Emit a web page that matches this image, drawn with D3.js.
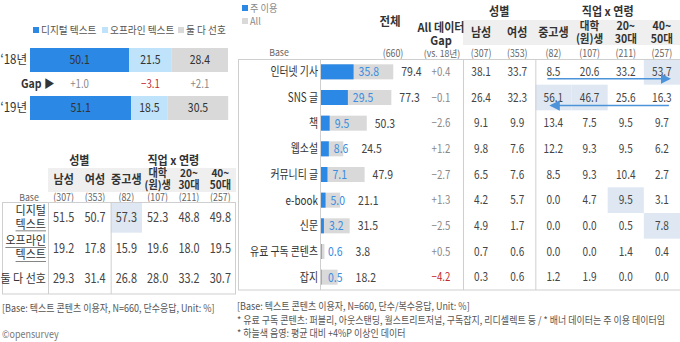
<!DOCTYPE html>
<html><head><meta charset="utf-8">
<script src="https://cdn.jsdelivr.net/npm/d3@7"></script>
<style>
html,body{margin:0;padding:0;background:#fff;}
svg text{font-family:"Noto Sans CJK KR","Noto Sans",sans-serif;}
</style></head>
<body><svg id="c" width="680" height="342"></svg>
<script>
// ---------- DATA ----------
const years = ["‘18년", "‘19년"];
const prefCategories = ["디지털 텍스트", "오프라인 텍스트", "둘 다 선호"];
const pref18 = [50.1, 21.5, 28.4];
const pref19 = [51.1, 18.5, 30.5];
const prefGap = [1.0, -3.1, 2.1];

const groupCols = [["남성"], ["여성"], ["중고생"], ["대학", "(원)생"], ["20~", "30대"], ["40~", "50대"]];
const groupBases = [307, 353, 82, 107, 211, 257];
const leftRowLabels = [["디지털", "텍스트"], ["오프라인", "텍스트"], ["둘 다 선호"]];
const leftDigital = [51.5, 50.7, 57.3, 52.3, 48.8, 49.8];
const leftOffline = [19.2, 17.8, 15.9, 19.6, 18.0, 19.5];
const leftBoth = [29.3, 31.4, 26.8, 28.0, 33.2, 30.7];

const contentCats = ["인터넷 기사", "SNS 글", "책", "웹소설", "커뮤니티 글", "e-book", "신문", "유료 구독 콘텐츠", "잡지"];
const mainUse = [35.8, 29.5, 9.5, 8.6, 7.1, 5.0, 3.2, 0.6, 0.5];
const allUse = [79.4, 77.3, 50.3, 24.5, 47.9, 21.1, 31.5, 3.8, 18.2];
const gapVs18 = [0.4, -0.1, -2.6, 1.2, -2.7, 1.3, -2.5, 0.5, -4.2];
const segInternet = [38.1, 33.7, 8.5, 20.6, 33.2, 53.7];
const segSNS = [26.4, 32.3, 56.1, 46.7, 25.6, 16.3];
const segBook = [9.1, 9.9, 13.4, 7.5, 9.5, 9.7];
const segWebNovel = [9.8, 7.6, 12.2, 9.3, 9.5, 6.2];
const segCommunity = [6.5, 7.6, 8.5, 9.3, 10.4, 2.7];
const segEbook = [4.2, 5.7, 0.0, 4.7, 9.5, 3.1];
const segNewspaper = [4.9, 1.7, 0.0, 0.0, 0.5, 7.8];
const segPaid = [0.7, 0.6, 0.0, 0.0, 1.4, 0.4];
const segMagazine = [0.3, 0.6, 1.2, 1.9, 0.0, 0.0];
const totalBase = 660;
const footLeft = "[Base: 텍스트 콘텐츠 이용자, N=660, 단수응답, Unit: %]";
const footRight = ["[Base: 텍스트 콘텐츠 이용자, N=660, 단수/복수응답, Unit: %]",
  "* 유료 구독 콘텐츠: 퍼블리, 아웃스탠딩, 월스트리트저널, 구독잡지, 리디셀렉트 등 / * 배너 데이터는 주 이용 데이터임",
  "* 하늘색 음영: 평균 대비 +4%P 이상인 데이터"];

// ---------- STYLE ----------
const SXK = 0.92, SXN = 0.84;
const C = {blue: "#2b88e4", light: "#bfe3fa", gray: "#d9d9d9", text: "#444", sub: "#888",
  blueText: "#3a8de0", red: "#c3282d", hl: "#dfe8f2", head: "#efefef", line: "#cfcfcf", arrow: "#4d93da"};

const svg = d3.select("#c");
function T(x, y, s, o = {}) {
  const sx = o.sx || SXK;
  const t = svg.append("text")
    .attr("transform", `translate(${x},${y}) scale(${sx},1)`)
    .attr("text-anchor", o.anchor || "middle")
    .attr("dy", "0.35em")
    .attr("font-size", o.size || 11)
    .attr("font-weight", o.bold ? 700 : 400)
    .attr("fill", o.fill || C.text)
    .text(s);
  t.w = () => t.node().getComputedTextLength() * sx;
  return t;
}
function N(x, y, s, o = {}) { return T(x, y, s, Object.assign({sx: SXN}, o)); }
function natural(s, size, bold) {
  const t = svg.append("text").attr("font-size", size).attr("font-weight", bold ? 700 : 400).text(s);
  const w = t.node().getComputedTextLength(); t.remove(); return w;
}
const fmt = d3.format(".1f");
const fmtGap = d3.format("+.1f");

// ---------- LEFT: stacked bars ----------
const xL = d3.scaleLinear().domain([0, 100]).range([30, 228]);
const yL = d3.scaleBand().domain(years).range([48, 120]).paddingInner(0.5);
const prefColors = [C.blue, C.light, C.gray];
const legX = [33, 102, 178];
prefCategories.forEach((c, i) => {
  svg.append("rect").attr("x", legX[i]).attr("y", 27).attr("width", 6).attr("height", 6).attr("fill", prefColors[i]);
  T(legX[i] + 8, 30, c, {anchor: "start", size: 10.5, fill: "#555"});
});
[pref18, pref19].forEach((vals, yi) => {
  let acc = 0;
  const yy = yL(years[yi]);
  vals.forEach((v, i) => {
    svg.append("rect").attr("x", xL(acc)).attr("y", yy).attr("width", xL(acc + v) - xL(acc))
      .attr("height", yL.bandwidth()).attr("fill", prefColors[i]);
    N((xL(acc) + xL(acc + v)) / 2, yy + yL.bandwidth() / 2, fmt(v), {size: 12.5, fill: "#333"});
    acc += v;
  });
  T(27, yy + yL.bandwidth() / 2, years[yi], {anchor: "end", size: 12.5, fill: "#333"});
});
{
  const gy = (yL(years[0]) + yL.bandwidth() + yL(years[1])) / 2;
  T(21, gy, "Gap ▶", {anchor: "start", size: 11.5, bold: true, fill: "#333"});
  let acc = 0;
  pref18.forEach((w, i) => {
    N((xL(acc) + xL(acc + w)) / 2, gy, fmtGap(prefGap[i]), {size: 11.5, fill: prefGap[i] <= -3 ? C.red : C.sub});
    acc += w;
  });
}

// ---------- LEFT: table ----------
const colIdx = d3.range(groupCols.length);
const xLT = d3.scaleBand().domain(colIdx).range([48, 236]);
const leftRows = [leftDigital, leftOffline, leftBoth];
const yLT = d3.scaleBand().domain(d3.range(3)).range([202, 294]);
svg.append("rect").attr("x", xLT(0)).attr("y", 168).attr("width", xLT.range()[1] - xLT(0)).attr("height", 24).attr("fill", C.head);
T((xLT(0) + xLT(1) + xLT.bandwidth()) / 2, 161, "성별", {size: 12, bold: true, fill: "#333"});
T((xLT(2) + xLT(5) + xLT.bandwidth()) / 2, 161, "직업 x 연령", {size: 12, bold: true, fill: "#333"});
groupCols.forEach((lines, i) => {
  const cx = xLT(i) + xLT.bandwidth() / 2;
  if (lines.length === 1) T(cx, 180, lines[0], {size: 12, bold: true, fill: "#333"});
  else { T(cx, 173.5, lines[0], {size: 11, bold: true, fill: "#333"}); T(cx, 185.5, lines[1], {size: 11, bold: true, fill: "#333"}); }
  N(cx, 197.5, `(${groupBases[i]})`, {size: 10.5, fill: "#666"});
});
T(29, 197.5, "Base", {size: 9.5, fill: "#666"});
const leftTotals = pref19;
leftRows.forEach((row, r) => {
  row.forEach((v, i) => {
    if (v >= leftTotals[r] + 4) svg.append("rect").attr("x", xLT(i)).attr("y", yLT(r)).attr("width", xLT.bandwidth()).attr("height", yLT.bandwidth()).attr("fill", C.hl);
  });
});
svg.append("rect").attr("x", 2.5).attr("y", 202.5).attr("width", 233).attr("height", 91.5).attr("fill", "none").attr("stroke", C.line);
[xLT(0), xLT(2)].forEach(x => svg.append("line").attr("x1", x + 0.5).attr("x2", x + 0.5).attr("y1", 202.5).attr("y2", 294).attr("stroke", C.line));
leftRows.forEach((row, r) => {
  const cy = yLT(r) + yLT.bandwidth() / 2;
  row.forEach((v, i) => N(xLT(i) + xLT.bandwidth() / 2, cy, fmt(v), {size: 13, fill: C.text}));
  const lab = leftRowLabels[r];
  if (lab.length === 1) T(46, cy, lab[0], {anchor: "end", size: 12, fill: "#333"});
  else {
    const a = T(46, cy - 7, lab[0], {anchor: "end", size: 12, fill: "#333"});
    const b = T(46, cy + 7, lab[1], {anchor: "end", size: 12, fill: "#333"});
    const ul = r === 0 ? [[b, cy + 7]] : [[a, cy - 7], [b, cy + 7]];
    ul.forEach(([t, yy]) => svg.append("line").attr("x1", 46 - t.w()).attr("x2", 46)
      .attr("y1", yy + 6.5).attr("y2", yy + 6.5).attr("stroke", "#666").attr("stroke-width", 0.8));
  }
});

// ---------- RIGHT: bars + table ----------
const segRows = [segInternet, segSNS, segBook, segWebNovel, segCommunity, segEbook, segNewspaper, segPaid, segMagazine];
const xR = d3.scaleLinear().domain([0, 100]).range([321, 412]);
const yR = d3.scaleBand().domain(contentCats).range([59, 290]);
const xRT = d3.scaleBand().domain(colIdx).range([463, 680]);
const barH = 15;

svg.append("rect").attr("x", 242).attr("y", 5).attr("width", 6).attr("height", 6).attr("fill", C.blue);
T(250, 8, "주 이용", {anchor: "start", size: 10, fill: C.sub});
svg.append("rect").attr("x", 242).attr("y", 18).attr("width", 6).attr("height", 6).attr("fill", C.gray);
T(250, 21, "All", {anchor: "start", size: 10, fill: C.sub});

svg.append("rect").attr("x", xRT(0)).attr("y", 20).attr("width", 680 - xRT(0)).attr("height", 25).attr("fill", C.head);
T(390, 22, "전체", {size: 12.5, bold: true, fill: "#333"});
T(441, 28, "All 데이터", {size: 12, bold: true, fill: "#333"});
T(441, 41, "Gap", {size: 12, bold: true, fill: "#333"});
N(393, 53, `(${totalBase})`, {size: 10.5, fill: "#666"});
T(442, 53.5, "(vs. 18년)", {size: 9.5, fill: "#666"});
T(279, 53, "Base", {size: 9.5, fill: "#666"});
T((xRT(0) + xRT(1) + xRT.bandwidth()) / 2, 12, "성별", {size: 12, bold: true, fill: "#333"});
T((xRT(2) + xRT(5) + xRT.bandwidth()) / 2, 12, "직업 x 연령", {size: 12, bold: true, fill: "#333"});
groupCols.forEach((lines, i) => {
  const cx = xRT(i) + xRT.bandwidth() / 2;
  if (lines.length === 1) T(cx, 33, lines[0], {size: 12, bold: true, fill: "#333"});
  else { T(cx, 26, lines[0], {size: 11.5, bold: true, fill: "#333"}); T(cx, 39, lines[1], {size: 11.5, bold: true, fill: "#333"}); }
  N(cx, 53, `(${groupBases[i]})`, {size: 10.5, fill: "#666"});
});

// highlights
segRows.forEach((row, r) => {
  row.forEach((v, i) => {
    if (v >= mainUse[r] + 4) svg.append("rect").attr("x", xRT(i)).attr("y", yR(contentCats[r])).attr("width", xRT.bandwidth()).attr("height", yR.bandwidth()).attr("fill", C.hl);
  });
});
svg.append("rect").attr("x", 238.5).attr("y", 59.5).attr("width", 445).attr("height", 230.5).attr("fill", "none").attr("stroke", C.line);
[xR(0) - 1, xRT(0), xRT(2)].forEach(x => svg.append("line").attr("x1", x + 0.5).attr("x2", x + 0.5).attr("y1", 59.5).attr("y2", 290).attr("stroke", C.line));

// category label width fitted so the longest label spans ~68px as in the reference
const catSX = 68 / natural(contentCats[7], 12.5, false);
contentCats.forEach((c, r) => {
  const cy = yR(c) + yR.bandwidth() / 2;
  svg.append("rect").attr("x", xR(0)).attr("y", cy - barH / 2).attr("width", xR(allUse[r]) - xR(0)).attr("height", barH).attr("fill", C.gray);
  svg.append("rect").attr("x", xR(0)).attr("y", cy - barH / 2).attr("width", xR(mainUse[r]) - xR(0)).attr("height", barH).attr("fill", C.blue);
  const bx = Math.max(xR(mainUse[r]) + 5, xR(0) + 7);
  const bl = N(bx, cy, fmt(mainUse[r]), {anchor: "start", size: 12.5, fill: C.blueText});
  const ax = Math.max(xR(allUse[r]) + 8, bx + bl.w() + 13);
  N(ax, cy, fmt(allUse[r]), {anchor: "start", size: 12.5, fill: C.text});
  T(318, cy, c, {anchor: "end", size: 12.5, sx: catSX, fill: "#333"});
  N(441, cy, fmtGap(gapVs18[r]), {size: 11.5, fill: gapVs18[r] <= -3 ? C.red : C.sub});
  segRows[r].forEach((v, i) => N(xRT(i) + xRT.bandwidth() / 2, cy, fmt(v), {size: 12, fill: C.text}));
});

// arrows
const defs = svg.append("defs");
defs.append("marker").attr("id", "ah").attr("viewBox", "0 0 10 10").attr("refX", 8).attr("refY", 5)
  .attr("markerWidth", 7).attr("markerHeight", 7).attr("orient", "auto-start-reverse")
  .append("path").attr("d", "M0,0 L10,5 L0,10 z").attr("fill", C.arrow);
{
  const cyA = yR(contentCats[0]) + yR.bandwidth() / 2 + 7;
  svg.append("line").attr("x1", xRT(2) + xRT.bandwidth() / 2 - 6).attr("x2", xRT(5) + xRT.bandwidth() / 2 + 7)
    .attr("y1", cyA).attr("y2", cyA).attr("stroke", C.arrow).attr("stroke-width", 1.5).attr("marker-end", "url(#ah)");
  const cyB = yR(contentCats[1]) + yR.bandwidth() / 2 + 8;
  svg.append("line").attr("x1", xRT(5) + xRT.bandwidth() / 2 + 7).attr("x2", xRT(2) + xRT.bandwidth() / 2 - 2)
    .attr("y1", cyB).attr("y2", cyB).attr("stroke", C.arrow).attr("stroke-width", 1.5).attr("marker-end", "url(#ah)");
}

// footers: width fitted so the long note spans ~428px as in the reference
const footSX = 428 / natural(footRight[1], 10, false);
[306, 320, 333].forEach((y, i) => T(237, y, footRight[i], {anchor: "start", size: 10, sx: footSX, fill: "#555"}));
T(2, 308, footLeft, {anchor: "start", size: 10, sx: footSX, fill: "#555"});
T(2, 334, "©opensurvey", {anchor: "start", size: 10, sx: footSX, fill: "#777"});
</script></body></html>
